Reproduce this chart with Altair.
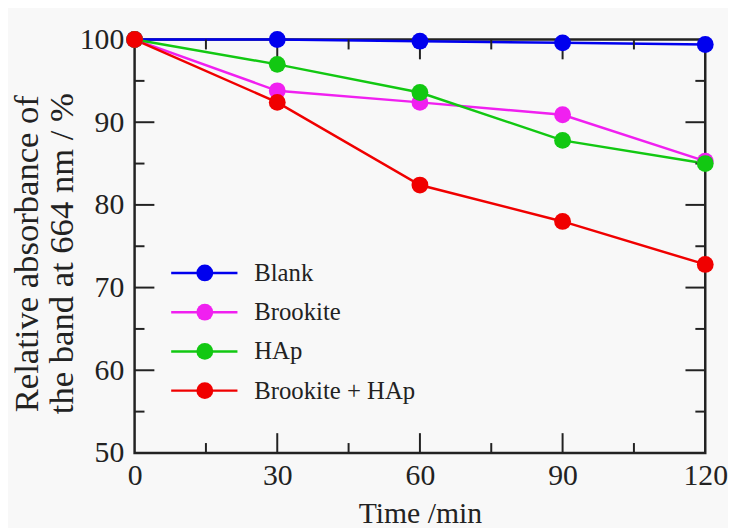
import altair as alt
import pandas as pd

times = [0, 30, 60, 90, 120]
series = ["Blank", "Brookite", "HAp", "Brookite + HAp"]
blank = [100, 100, 99.8, 99.6, 99.4]
brookite = [100, 93.8, 92.4, 90.9, 85.3]
hap = [100, 97.0, 93.6, 87.8, 85.0]
brookite_hap = [100, 92.4, 82.4, 78.0, 72.8]
colors = ["#0000ee", "#f020f0", "#12c812", "#f00000"]

x_labels = [0, 30, 60, 90, 120]
y_labels = [50, 60, 70, 80, 90, 100]
x_major = [30, 60, 90]
x_minor = [15, 45, 75, 105]
y_major = [60, 70, 80, 90]
y_minor = [55, 65, 75, 85, 95]

W, H = 577, 418
FONT = "Liberation Serif"
MAJ, MIN = 20, 10

rows = []
for name, vals in zip(series, [blank, brookite, hap, brookite_hap]):
    for t, v in zip(times, vals):
        rows.append({"series": name, "time": t, "value": v})
df = pd.DataFrame(rows)

xs = alt.Scale(domain=[0, 120], nice=False)
ys = alt.Scale(domain=[50, 100], nice=False)
cs = alt.Scale(domain=series, range=colors)

xaxis = alt.Axis(values=x_labels, ticks=False, domain=False, grid=False,
                 labelFont=FONT, labelFontSize=30, labelColor="#222",
                 labelPadding=8, title="Time /min", titleFont=FONT,
                 titleFontSize=30, titleFontWeight="normal", titleColor="#222",
                 titlePadding=8, labelFlush=False)
yaxis = alt.Axis(values=y_labels, ticks=False, domain=False, grid=False,
                 labelFont=FONT, labelFontSize=30, labelColor="#222",
                 labelPadding=11, title=["Relative absorbance of", "the band at 664 nm / %"],
                 titleFont=FONT, titleFontSize=35, titleFontWeight="normal",
                 titleColor="#222", titlePadding=0, titleLineHeight=35,
                 titleY=216, labelFlush=False)

lines = alt.Chart(df).mark_line(strokeWidth=2.5).encode(
    x=alt.X("time:Q", scale=xs, axis=xaxis),
    y=alt.Y("value:Q", scale=ys, axis=yaxis),
    color=alt.Color("series:N", scale=cs, legend=None),
    detail="series:N",
)
points = alt.Chart(df).mark_circle(size=290, opacity=1).encode(
    x=alt.X("time:Q", scale=xs, axis=xaxis),
    y=alt.Y("value:Q", scale=ys, axis=None),
    color=alt.Color("series:N", scale=cs, legend=None),
)

def xticks(vals, length):
    d = pd.DataFrame({"v": vals})
    bottom = alt.Chart(d).mark_rule(color="#222", strokeWidth=2).encode(
        x=alt.X("v:Q", scale=xs, axis=xaxis), y=alt.value(H), y2=alt.value(H - length))
    top = alt.Chart(d).mark_rule(color="#222", strokeWidth=2).encode(
        x=alt.X("v:Q", scale=xs, axis=xaxis), y=alt.value(0), y2=alt.value(length))
    return [bottom, top]

def yticks(vals, length):
    d = pd.DataFrame({"v": vals})
    left = alt.Chart(d).mark_rule(color="#222", strokeWidth=2).encode(
        y=alt.Y("v:Q", scale=ys, axis=None), x=alt.value(0), x2=alt.value(length))
    right = alt.Chart(d).mark_rule(color="#222", strokeWidth=2).encode(
        y=alt.Y("v:Q", scale=ys, axis=None), x=alt.value(W), x2=alt.value(W - length))
    return [left, right]

ticks = xticks(x_major, MAJ) + xticks(x_minor, MIN) + yticks(y_major, MAJ) + yticks(y_minor, MIN)

leg = pd.DataFrame({"series": series, "row": list(range(len(series)))})
ly = alt.Y("row:Q", scale=alt.Scale(domain=[0, 3], range=[236, 355]), axis=None)
leg_line = alt.Chart(leg).mark_rule(strokeWidth=2.5).encode(
    x=alt.value(37), x2=alt.value(104), y=ly,
    color=alt.Color("series:N", scale=cs, legend=None))
leg_pt = alt.Chart(leg).mark_circle(size=290, opacity=1).encode(
    x=alt.value(71), y=ly, color=alt.Color("series:N", scale=cs, legend=None))
leg_txt = alt.Chart(leg).mark_text(align="left", baseline="middle", font=FONT,
                                   fontSize=25, color="#222").encode(
    x=alt.value(121), y=ly, text="series:N")

chart = alt.layer(lines, *ticks, points, leg_line, leg_pt, leg_txt).resolve_scale(
    y="independent"
).properties(
    width=W, height=H,
    autosize=alt.AutoSizeParams(type="none"),
    padding={"left": 128, "top": 29, "right": 23, "bottom": 73},
    background="#f8f8f8",
).configure_view(stroke="#222", strokeWidth=2.5)

chart.save("out.html", embed_options={"renderer": "svg", "actions": False})
